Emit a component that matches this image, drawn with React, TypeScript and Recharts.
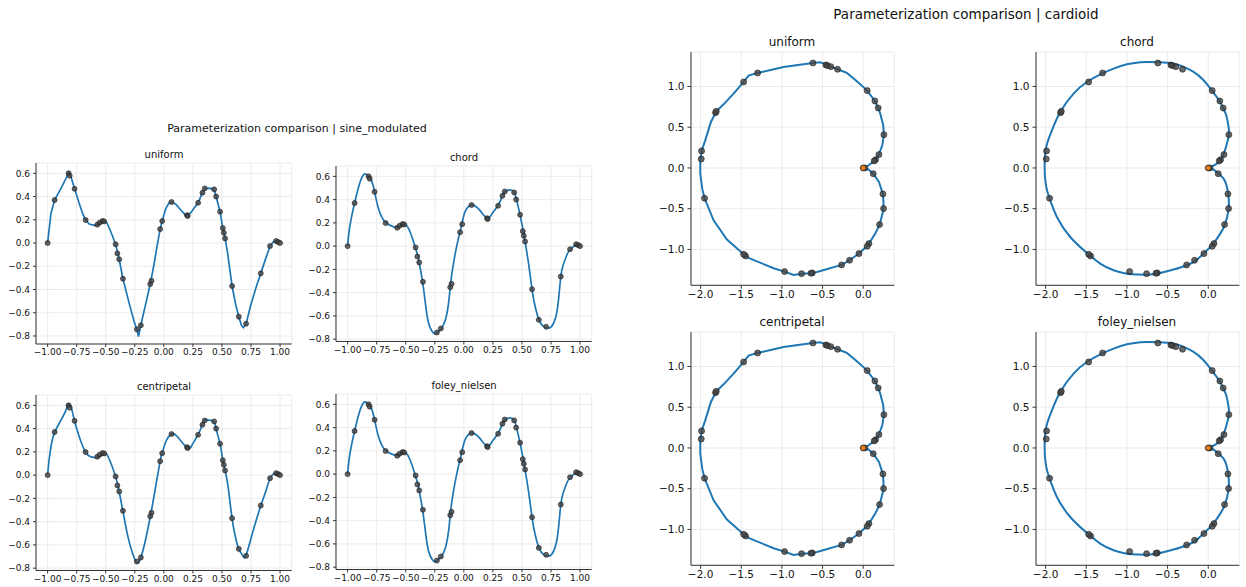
import React from 'react';
import { ScatterChart, Scatter, XAxis, YAxis, CartesianGrid } from 'recharts';

const FONT = '"DejaVu Sans", sans-serif';
const BLUE = '#1f77b4';

// tick values
const sineXTicks = [-1, -0.75, -0.5, -0.25, 0, 0.25, 0.5, 0.75, 1];
const sineYTicks = [-0.8, -0.6, -0.4, -0.2, 0, 0.2, 0.4, 0.6];
const cardXTicks = [-2, -1.5, -1, -0.5, 0];
const cardYTicks = [-1, -0.5, 0, 0.5, 1];

// sine_modulated control points
const sinePoints = [
  [-1.0, 0.0], [-0.94, 0.37], [-0.82, 0.6], [-0.81, 0.58], [-0.768, 0.467], [-0.673, 0.198],
  [-0.573, 0.158], [-0.553, 0.175], [-0.527, 0.19], [-0.513, 0.186], [-0.415, -0.011], [-0.4, -0.089],
  [-0.384, -0.14], [-0.352, -0.307], [-0.232, -0.743], [-0.198, -0.708], [-0.117, -0.353], [-0.106, -0.324],
  [-0.032, 0.12], [-0.014, 0.189], [0.066, 0.353], [0.2, 0.24], [0.205, 0.233], [0.295, 0.347],
  [0.332, 0.433], [0.352, 0.47], [0.433, 0.462], [0.45, 0.4], [0.484, 0.27], [0.507, 0.129],
  [0.516, 0.089], [0.527, 0.04], [0.587, -0.37], [0.645, -0.634], [0.708, -0.694], [0.834, -0.261],
  [0.914, -0.026], [0.966, 0.017], [0.983, 0.009], [1.0, 0.0],
];

const sineUniform = [
  [-1.0, 0.0], [-0.991, 0.083], [-0.971, 0.255], [-0.94, 0.37], [-0.885, 0.47], [-0.842, 0.556],
  [-0.819, 0.608], [-0.799, 0.571], [-0.768, 0.467], [-0.728, 0.341], [-0.699, 0.255], [-0.673, 0.198],
  [-0.642, 0.163], [-0.599, 0.152], [-0.573, 0.158], [-0.542, 0.181], [-0.513, 0.189], [-0.49, 0.175],
  [-0.456, 0.097], [-0.415, -0.011], [-0.384, -0.141], [-0.352, -0.307], [-0.298, -0.519], [-0.255, -0.677],
  [-0.232, -0.743], [-0.218, -0.806], [-0.198, -0.708], [-0.155, -0.519], [-0.117, -0.353], [-0.083, -0.175],
  [-0.054, -0.003], [-0.032, 0.12], [-0.014, 0.189], [0.017, 0.298], [0.046, 0.347], [0.066, 0.353],
  [0.103, 0.335], [0.146, 0.284], [0.183, 0.244], [0.203, 0.238], [0.232, 0.261], [0.261, 0.301],
  [0.295, 0.347], [0.332, 0.433], [0.352, 0.47], [0.39, 0.473], [0.433, 0.462], [0.45, 0.399],
  [0.484, 0.27], [0.507, 0.129], [0.527, 0.04], [0.547, -0.075], [0.587, -0.37], [0.619, -0.533],
  [0.645, -0.634], [0.668, -0.708], [0.685, -0.728], [0.708, -0.694], [0.748, -0.533], [0.791, -0.39],
  [0.834, -0.261], [0.877, -0.132], [0.914, -0.026], [0.943, 0.011], [0.966, 0.017], [0.983, 0.009],
  [1.0, 0.0],
];

const sineChord = [
  [-1.0, 0.0], [-0.986, 0.138], [-0.963, 0.267], [-0.94, 0.371], [-0.905, 0.511], [-0.877, 0.592],
  [-0.848, 0.621], [-0.814, 0.592], [-0.791, 0.555], [-0.768, 0.468], [-0.739, 0.339], [-0.705, 0.247],
  [-0.67, 0.201], [-0.619, 0.172], [-0.573, 0.161], [-0.539, 0.178], [-0.51, 0.187], [-0.481, 0.161],
  [-0.447, 0.08], [-0.418, -0.011], [-0.395, -0.086], [-0.384, -0.144], [-0.355, -0.307], [-0.327, -0.523],
  [-0.304, -0.661], [-0.275, -0.73], [-0.252, -0.753], [-0.232, -0.744], [-0.198, -0.713], [-0.16, -0.638],
  [-0.132, -0.494], [-0.117, -0.351], [-0.103, -0.236], [-0.074, -0.063], [-0.04, 0.095], [-0.017, 0.19],
  [0.011, 0.296], [0.06, 0.353], [0.097, 0.345], [0.14, 0.305], [0.201, 0.239], [0.241, 0.276],
  [0.295, 0.351], [0.332, 0.431], [0.355, 0.468], [0.398, 0.483], [0.433, 0.463], [0.453, 0.402],
  [0.484, 0.267], [0.51, 0.132], [0.527, 0.037], [0.556, -0.144], [0.587, -0.374], [0.613, -0.517],
  [0.648, -0.638], [0.685, -0.69], [0.722, -0.704], [0.756, -0.69], [0.791, -0.609], [0.814, -0.466],
  [0.834, -0.264], [0.854, -0.164], [0.885, -0.078], [0.914, -0.029], [0.971, 0.011], [1.0, 0.0],
];

const sineCentripetal = [
  [-1.0, 0.0], [-0.986, 0.143], [-0.966, 0.272], [-0.94, 0.367], [-0.885, 0.473], [-0.842, 0.559],
  [-0.822, 0.608], [-0.799, 0.588], [-0.768, 0.465], [-0.728, 0.33], [-0.673, 0.195], [-0.628, 0.158],
  [-0.573, 0.152], [-0.527, 0.181], [-0.507, 0.186], [-0.479, 0.158], [-0.415, -0.014], [-0.384, -0.143],
  [-0.352, -0.31], [-0.312, -0.516], [-0.269, -0.674], [-0.232, -0.751], [-0.198, -0.711], [-0.155, -0.545],
  [-0.117, -0.358], [-0.083, -0.172], [-0.032, 0.12], [-0.014, 0.189], [0.017, 0.287], [0.066, 0.353],
  [0.117, 0.33], [0.203, 0.235], [0.246, 0.264], [0.295, 0.35], [0.332, 0.436], [0.352, 0.473],
  [0.39, 0.473], [0.433, 0.459], [0.45, 0.396], [0.484, 0.267], [0.507, 0.129], [0.527, 0.037],
  [0.553, -0.1], [0.587, -0.373], [0.619, -0.545], [0.645, -0.637], [0.676, -0.688], [0.702, -0.703],
  [0.742, -0.573], [0.791, -0.401], [0.834, -0.264], [0.877, -0.138], [0.914, -0.029], [0.943, 0.009],
  [0.966, 0.014], [1.0, 0.0],
];

const sineFoleyNielsen = sineChord;

// cardioid control points
const cardPoints = [
  [-0.619, 1.288], [-0.459, 1.264], [-0.439, 1.256], [-0.398, 1.243], [-0.316, 1.211], [0.049, 0.949],
  [0.143, 0.822], [0.184, 0.736], [0.254, 0.409], [0.193, 0.164], [0.152, 0.102], [0.135, 0.086],
  [0.0, 0.0], [0.02, 0.0], [0.123, -0.07], [0.242, -0.319], [0.25, -0.499], [0.201, -0.695],
  [0.07, -0.928], [0.049, -0.961], [-0.053, -1.051], [-0.168, -1.133], [-0.266, -1.19], [-0.627, -1.288],
  [-0.643, -1.292], [-0.758, -1.297], [-0.967, -1.272], [-1.447, -1.08], [-1.471, -1.059], [-1.951, -0.372],
  [-1.992, 0.11], [-1.988, 0.209], [-1.816, 0.679], [-1.807, 0.695], [-1.471, 1.055], [-1.299, 1.166],
];
const cardStart = [[0.0, 0.0]];

const cardUniform = [
  [0.004, 0.0], [0.066, 0.033], [0.135, 0.086], [0.193, 0.164], [0.234, 0.278], [0.254, 0.409],
  [0.246, 0.524], [0.209, 0.667], [0.184, 0.736], [0.143, 0.822], [0.049, 0.949], [-0.078, 1.063],
  [-0.201, 1.166], [-0.316, 1.211], [-0.398, 1.243], [-0.459, 1.272], [-0.529, 1.297], [-0.619, 1.288],
  [-0.98, 1.239], [-1.299, 1.166], [-1.41, 1.133], [-1.471, 1.055], [-1.594, 0.912], [-1.717, 0.781],
  [-1.807, 0.695], [-1.873, 0.564], [-1.943, 0.339], [-1.988, 0.209], [-2.004, 0.074], [-2.004, -0.07],
  [-1.98, -0.254], [-1.951, -0.372], [-1.84, -0.642], [-1.676, -0.879], [-1.471, -1.059], [-1.41, -1.104],
  [-1.102, -1.231], [-0.967, -1.272], [-0.857, -1.313], [-0.758, -1.297], [-0.643, -1.292], [-0.57, -1.276],
  [-0.266, -1.19], [-0.168, -1.133], [-0.053, -1.051], [0.057, -0.949], [0.148, -0.806], [0.201, -0.695],
  [0.242, -0.54], [0.25, -0.438], [0.242, -0.319], [0.193, -0.172], [0.123, -0.07], [0.066, -0.02],
  [0.004, 0.0],
];

const cardChord = [
  [0.008, 0.0], [0.107, 0.053], [0.148, 0.094], [0.189, 0.168], [0.23, 0.299], [0.254, 0.409],
  [0.25, 0.503], [0.221, 0.646], [0.18, 0.74], [0.139, 0.822], [0.049, 0.945], [-0.057, 1.076],
  [-0.18, 1.178], [-0.316, 1.247], [-0.426, 1.28], [-0.59, 1.297], [-0.754, 1.301], [-0.836, 1.297],
  [-1.0, 1.272], [-1.164, 1.219], [-1.307, 1.157], [-1.492, 1.055], [-1.656, 0.912], [-1.82, 0.687],
  [-1.922, 0.462], [-1.992, 0.258], [-2.012, 0.012], [-1.992, -0.233], [-1.943, -0.397], [-1.861, -0.601],
  [-1.697, -0.847], [-1.492, -1.043], [-1.328, -1.174], [-1.164, -1.256], [-1.0, -1.297], [-0.836, -1.309],
  [-0.652, -1.301], [-0.426, -1.247], [-0.262, -1.194], [-0.139, -1.125], [-0.016, -1.01], [0.057, -0.937],
  [0.148, -0.806], [0.209, -0.683], [0.25, -0.507], [0.25, -0.356], [0.23, -0.233], [0.189, -0.131],
  [0.127, -0.07], [0.066, -0.02], [0.008, 0.0],
];

const cardCentripetal = cardUniform;
const cardFoleyNielsen = cardChord;

const toXY = (arr: number[][]) => arr.map(([x, y]) => ({ x, y }));
const fmt = (d: number) => (v: number) => v.toFixed(d).replace('-', '\u2212');

const noShape = () => <g />;

type Box = { x: number; y: number; w: number; h: number };

function Panel(props: {
  box: Box; xDomain: number[]; yDomain: number[]; xTicks: number[]; yTicks: number[];
  xDec: number; yDec: number; curve: number[][]; points: number[][]; start?: number[][];
  fs: number; yW: number; lineW: number; dotR: number; tick: number; smooth?: boolean;
}) {
  const { box, fs, yW, dotR } = props;
  const mt = 6, mr = 6, xH = fs + 14;
  const W = yW + box.w + mr;
  const H = mt + box.h + xH;
  const dot = (p: any) => (
    <circle cx={p.cx} cy={p.cy} r={dotR} fill="#444" fillOpacity={0.8} stroke="#1a1a1a" strokeWidth={0.6} />
  );
  const orange = (p: any) => (
    <circle cx={p.cx} cy={p.cy} r={dotR * 0.8} fill="#ff7f0e" stroke="#333" strokeWidth={0.4} />
  );
  const tickStyle = { fontSize: fs, fill: '#111', fontFamily: FONT };
  return (
    <div style={{ position: 'absolute', left: box.x - yW, top: box.y - mt }}>
      <ScatterChart width={W} height={H} margin={{ top: mt, right: mr, left: 0, bottom: 0 }}>
        <CartesianGrid stroke="#ebebeb" strokeWidth={1} />
        <XAxis type="number" dataKey="x" domain={props.xDomain} ticks={props.xTicks} interval={0}
          allowDataOverflow tickFormatter={fmt(props.xDec)} tick={tickStyle} tickSize={props.tick}
          tickMargin={2} stroke="#333" height={xH} />
        <YAxis type="number" dataKey="y" domain={props.yDomain} ticks={props.yTicks} interval={0}
          allowDataOverflow tickFormatter={fmt(props.yDec)} tick={tickStyle} tickSize={props.tick}
          tickMargin={3} stroke="#333" width={yW} />
        <Scatter data={toXY(props.curve)} line={{ stroke: BLUE, strokeWidth: props.lineW }}
          lineJointType={props.smooth ? 'natural' : 'linear'} shape={noShape} isAnimationActive={false} />
        <Scatter data={toXY(props.points)} shape={dot} isAnimationActive={false} />
        {props.start && <Scatter data={toXY(props.start)} shape={orange} isAnimationActive={false} />}
      </ScatterChart>
    </div>
  );
}

function Title({ text, x, y, fs }: { text: string; x: number; y: number; fs: number }) {
  return (
    <div style={{
      position: 'absolute', left: x, top: y, transform: 'translate(-50%, -50%)', whiteSpace: 'nowrap',
      fontFamily: FONT, fontSize: fs, color: '#111', lineHeight: 1,
    }}>{text}</div>
  );
}

export default function App() {
  const sineCommon = {
    xDomain: [-1.1, 1.1], xTicks: sineXTicks, yTicks: sineYTicks, xDec: 2, yDec: 1,
    points: sinePoints, fs: 9, yW: 34, lineW: 1.7, dotR: 2.5, tick: 3,
  };
  const cardCommon = {
    xDomain: [-2.118, 0.382], yDomain: [-1.44, 1.423], xTicks: cardXTicks, yTicks: cardYTicks,
    xDec: 1, yDec: 1, points: cardPoints, start: cardStart, fs: 10.5, yW: 40, lineW: 2, dotR: 3, tick: 3.5,
  };
  const sw = 255.7;
  const cw = 203.3, ch = 233.3;
  return (
    <div style={{ position: 'fixed', left: 0, top: 0, width: 1246, height: 587, background: '#fff', overflow: 'hidden' }}>
      <Title text="Parameterization comparison | sine_modulated" x={297} y={128} fs={11} />
      <Title text="uniform" x={164} y={155} fs={10} />
      <Title text="chord" x={464} y={157.5} fs={10} />
      <Title text="centripetal" x={164} y={387} fs={10} />
      <Title text="foley_nielsen" x={464} y={386} fs={10} />
      <Panel {...sineCommon} box={{ x: 36, y: 163, w: sw, h: 181 }} yDomain={[-0.869, 0.689]} curve={sineUniform} />
      <Panel {...sineCommon} box={{ x: 336.3, y: 166, w: sw, h: 175.5 }} yDomain={[-0.82, 0.689]} curve={sineChord} smooth />
      <Panel {...sineCommon} box={{ x: 35.7, y: 394.5, w: sw, h: 175.5 }} yDomain={[-0.82, 0.689]} curve={sineCentripetal} smooth />
      <Panel {...sineCommon} box={{ x: 336.3, y: 394, w: sw, h: 175.5 }} yDomain={[-0.82, 0.689]} curve={sineFoleyNielsen} smooth />

      <Title text="Parameterization comparison | cardioid" x={966} y={15} fs={13.5} />
      <Title text="uniform" x={792} y={41.7} fs={12} />
      <Title text="chord" x={1137} y={41.7} fs={12} />
      <Title text="centripetal" x={792} y={321.7} fs={12} />
      <Title text="foley_nielsen" x={1137} y={321.7} fs={12} />
      <Panel {...cardCommon} box={{ x: 690.7, y: 51.7, w: cw, h: ch }} curve={cardUniform} />
      <Panel {...cardCommon} box={{ x: 1035.7, y: 51.7, w: cw, h: ch }} curve={cardChord} smooth />
      <Panel {...cardCommon} box={{ x: 690.7, y: 331.7, w: cw, h: ch }} curve={cardCentripetal} />
      <Panel {...cardCommon} box={{ x: 1035.7, y: 331.7, w: cw, h: ch }} curve={cardFoleyNielsen} smooth />
    </div>
  );
}
